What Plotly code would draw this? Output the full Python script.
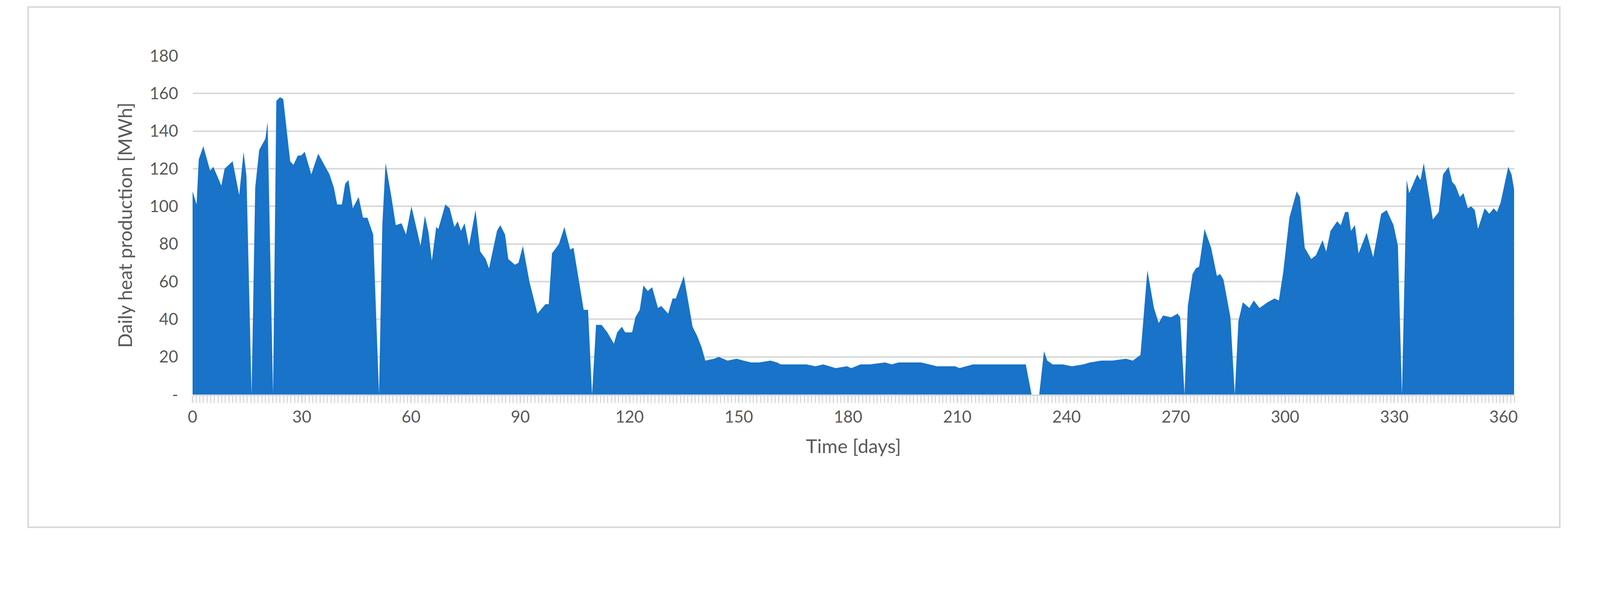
import plotly.graph_objects as go

# breakpoints (day, MWh)
days = [0, 1.1, 1.7, 2.95, 4.8, 5.7, 7.9, 8.8, 11, 12.8, 14, 14.8, 16.2, 17.2, 18.3, 20, 20.6, 22.1,
        23, 24, 24.9, 26.8, 27.7, 28.9, 29.8, 30.8, 32.6, 34.5, 37.6, 38.8, 39.7, 41, 41.9, 42.8, 44,
        45.6, 46.8, 48, 49.6, 51.2, 52.1, 53, 54.6, 55.8, 57.4, 58.6, 60.1, 62.6, 63.8, 64.8, 65.7,
        66.9, 67.5, 69.4, 70.6, 71.9, 72.8, 73.7, 74.7, 75.9, 77.7, 79, 80.5, 81.4, 83.6, 84.5, 85.8,
        86.7, 88.5, 89.5, 90.7, 92.5, 94.7, 96.9, 97.8, 98.7, 100.6, 102.1, 103.7, 104.6, 107.4,
        108.6, 109.7, 110.8, 112.3, 113.9, 115.7, 116.6, 117.9, 118.8, 120.7, 121.6, 122.8, 123.8,
        125, 126.2, 127.8, 128.7, 130.6, 131.8, 132.7, 134.9, 137.3, 138.6, 139.8, 140.8, 143.2,
        144.5, 146.9, 149.4, 151.3, 153.4, 155.6, 158.7, 160.5, 161.5, 166.7, 168.6, 171, 173.2,
        176.6, 179.7, 180.9, 183.4, 185.9, 190.2, 192, 193.9, 200.1, 204.4, 209.4, 210.6, 214.3,
        218, 223, 225.4, 228.8, 230.4, 232.5, 233.8, 234.7, 236.2, 239, 241.5, 244.6, 246.4, 249.5,
        252.6, 256.3, 258.2, 260.3, 262.2, 264, 265.3, 266.5, 268.7, 270.5, 271.2, 272.4, 273.3,
        274.6, 275.5, 276.4, 277.9, 279.7, 281.3, 282.2, 283.1, 285, 286.2, 287.2, 288.4, 290.2,
        291.4, 293, 295.2, 297.1, 298.3, 299.5, 301.2, 303.2, 304.1, 305.4, 307.2, 308.5, 310.3,
        311.3, 312.5, 314.3, 315.3, 316.5, 317.4, 318.1, 319.2, 320.2, 322.4, 324.2, 326.4, 327.9,
        329.8, 331, 332.1, 333.4, 334.1, 336.3, 337.2, 338.1, 340.6, 342.2, 343.4, 344.9, 345.9,
        346.8, 348, 349, 350.2, 351.1, 352.1, 353, 354.8, 356.1, 357.3, 358.2, 359.2, 361.3, 362.2,
        362.9]
heat = [108, 101, 125, 132, 119, 121, 111, 120, 124, 106, 129, 116, 0, 110, 130, 136, 145, 0,
        156, 158, 157, 124, 122, 127, 127, 129, 117, 128, 117, 110, 101, 101, 112, 114, 99,
        105, 94, 94, 85, 0, 90, 123, 105, 90, 91, 85, 100, 79, 95, 86, 71,
        89, 88, 101, 99, 89, 92, 87, 91, 79, 98, 76, 72, 67, 87, 90, 85,
        72, 69, 70, 79, 60, 43, 48, 48, 75, 80, 89, 77, 78, 45,
        45, 0, 37, 37, 33, 27, 33, 36, 33, 33, 41, 45, 58,
        55, 57, 46, 47, 43, 51, 51, 63, 36, 31, 25, 18, 19,
        20, 18, 19, 18, 17, 17, 18, 17, 16, 16, 16, 15, 16,
        14, 15, 14, 16, 16, 17, 16, 17, 17, 15, 15, 14, 16,
        16, 16, 16, 16, 0, 0, 23, 18, 16, 16, 15, 16, 17, 18,
        18, 19, 18, 21, 66, 46, 38, 42, 41, 43, 41, 0, 47,
        64, 67, 68, 88, 78, 63, 64, 61, 41, 0, 39, 49, 46,
        50, 46, 49, 51, 50, 65, 94, 108, 105, 78, 72, 74, 82,
        76, 87, 92, 90, 97, 97, 87, 90, 75, 86, 73, 96, 98,
        90, 79, 0, 114, 107, 117, 114, 123, 93, 97, 117, 121, 113,
        111, 105, 107, 99, 100, 98, 88, 99, 96, 99, 97, 102, 121, 117,
        109]

x_ticks = [0, 30, 60, 90, 120, 150, 180, 210, 240, 270, 300, 330, 360]
y_ticks = [0, 20, 40, 60, 80, 100, 120, 140, 160, 180]
y_labels = ["-"] + [str(v) for v in y_ticks[1:]]

grey = "#595959"
light = "#d9d9d9"
font = "Lato"

fig = go.Figure()
fig.add_trace(go.Scatter(x=days, y=heat, mode="lines", fill="tozeroy",
                         line=dict(width=0, color="#1873C9"), fillcolor="#1873C9"))

# the page is shown a bit zoomed, so sizes are in css px
L, R, T, B = 485, 3869, 135, 1002
W, H = 4050, 1383
fig.update_layout(
    width=W, height=H,
    margin=dict(l=L, r=W - R, t=T, b=H - B),
    paper_bgcolor="white", plot_bgcolor="white",
    showlegend=False,
    font=dict(family=font, color=grey, size=42),
)
fig.update_xaxes(
    range=[0, 363], tickvals=x_ticks, ticks="outside", ticklen=18, tickcolor=light,
    tickwidth=4, showgrid=False, showline=True, linecolor=light, linewidth=4,
    minor=dict(dtick=1, ticks="outside", ticklen=18, tickcolor=light, tickwidth=3),
    tickfont=dict(size=42, color=grey),
    title=dict(text="Time [days]", font=dict(size=49, color=grey), standoff=36),
)
fig.update_yaxes(
    range=[0, 180], tickvals=y_ticks, ticktext=y_labels, showgrid=True,
    gridcolor=light, gridwidth=4, zeroline=False, showline=False,
    tickfont=dict(size=42, color=grey), ticklabelstandoff=36,
    title=dict(text="Daily heat production [MWh]", font=dict(size=49, color=grey), standoff=28),
)

# light outer frame like the spreadsheet chart border
pw, ph = R - L, B - T
fig.add_shape(type="rect", xref="paper", yref="paper",
              x0=(64 - L) / pw, x1=(3985 - L) / pw,
              y0=(B - 1342) / ph, y1=(B - 10) / ph,
              line=dict(color=light, width=4))

fig.write_html("out.html")
